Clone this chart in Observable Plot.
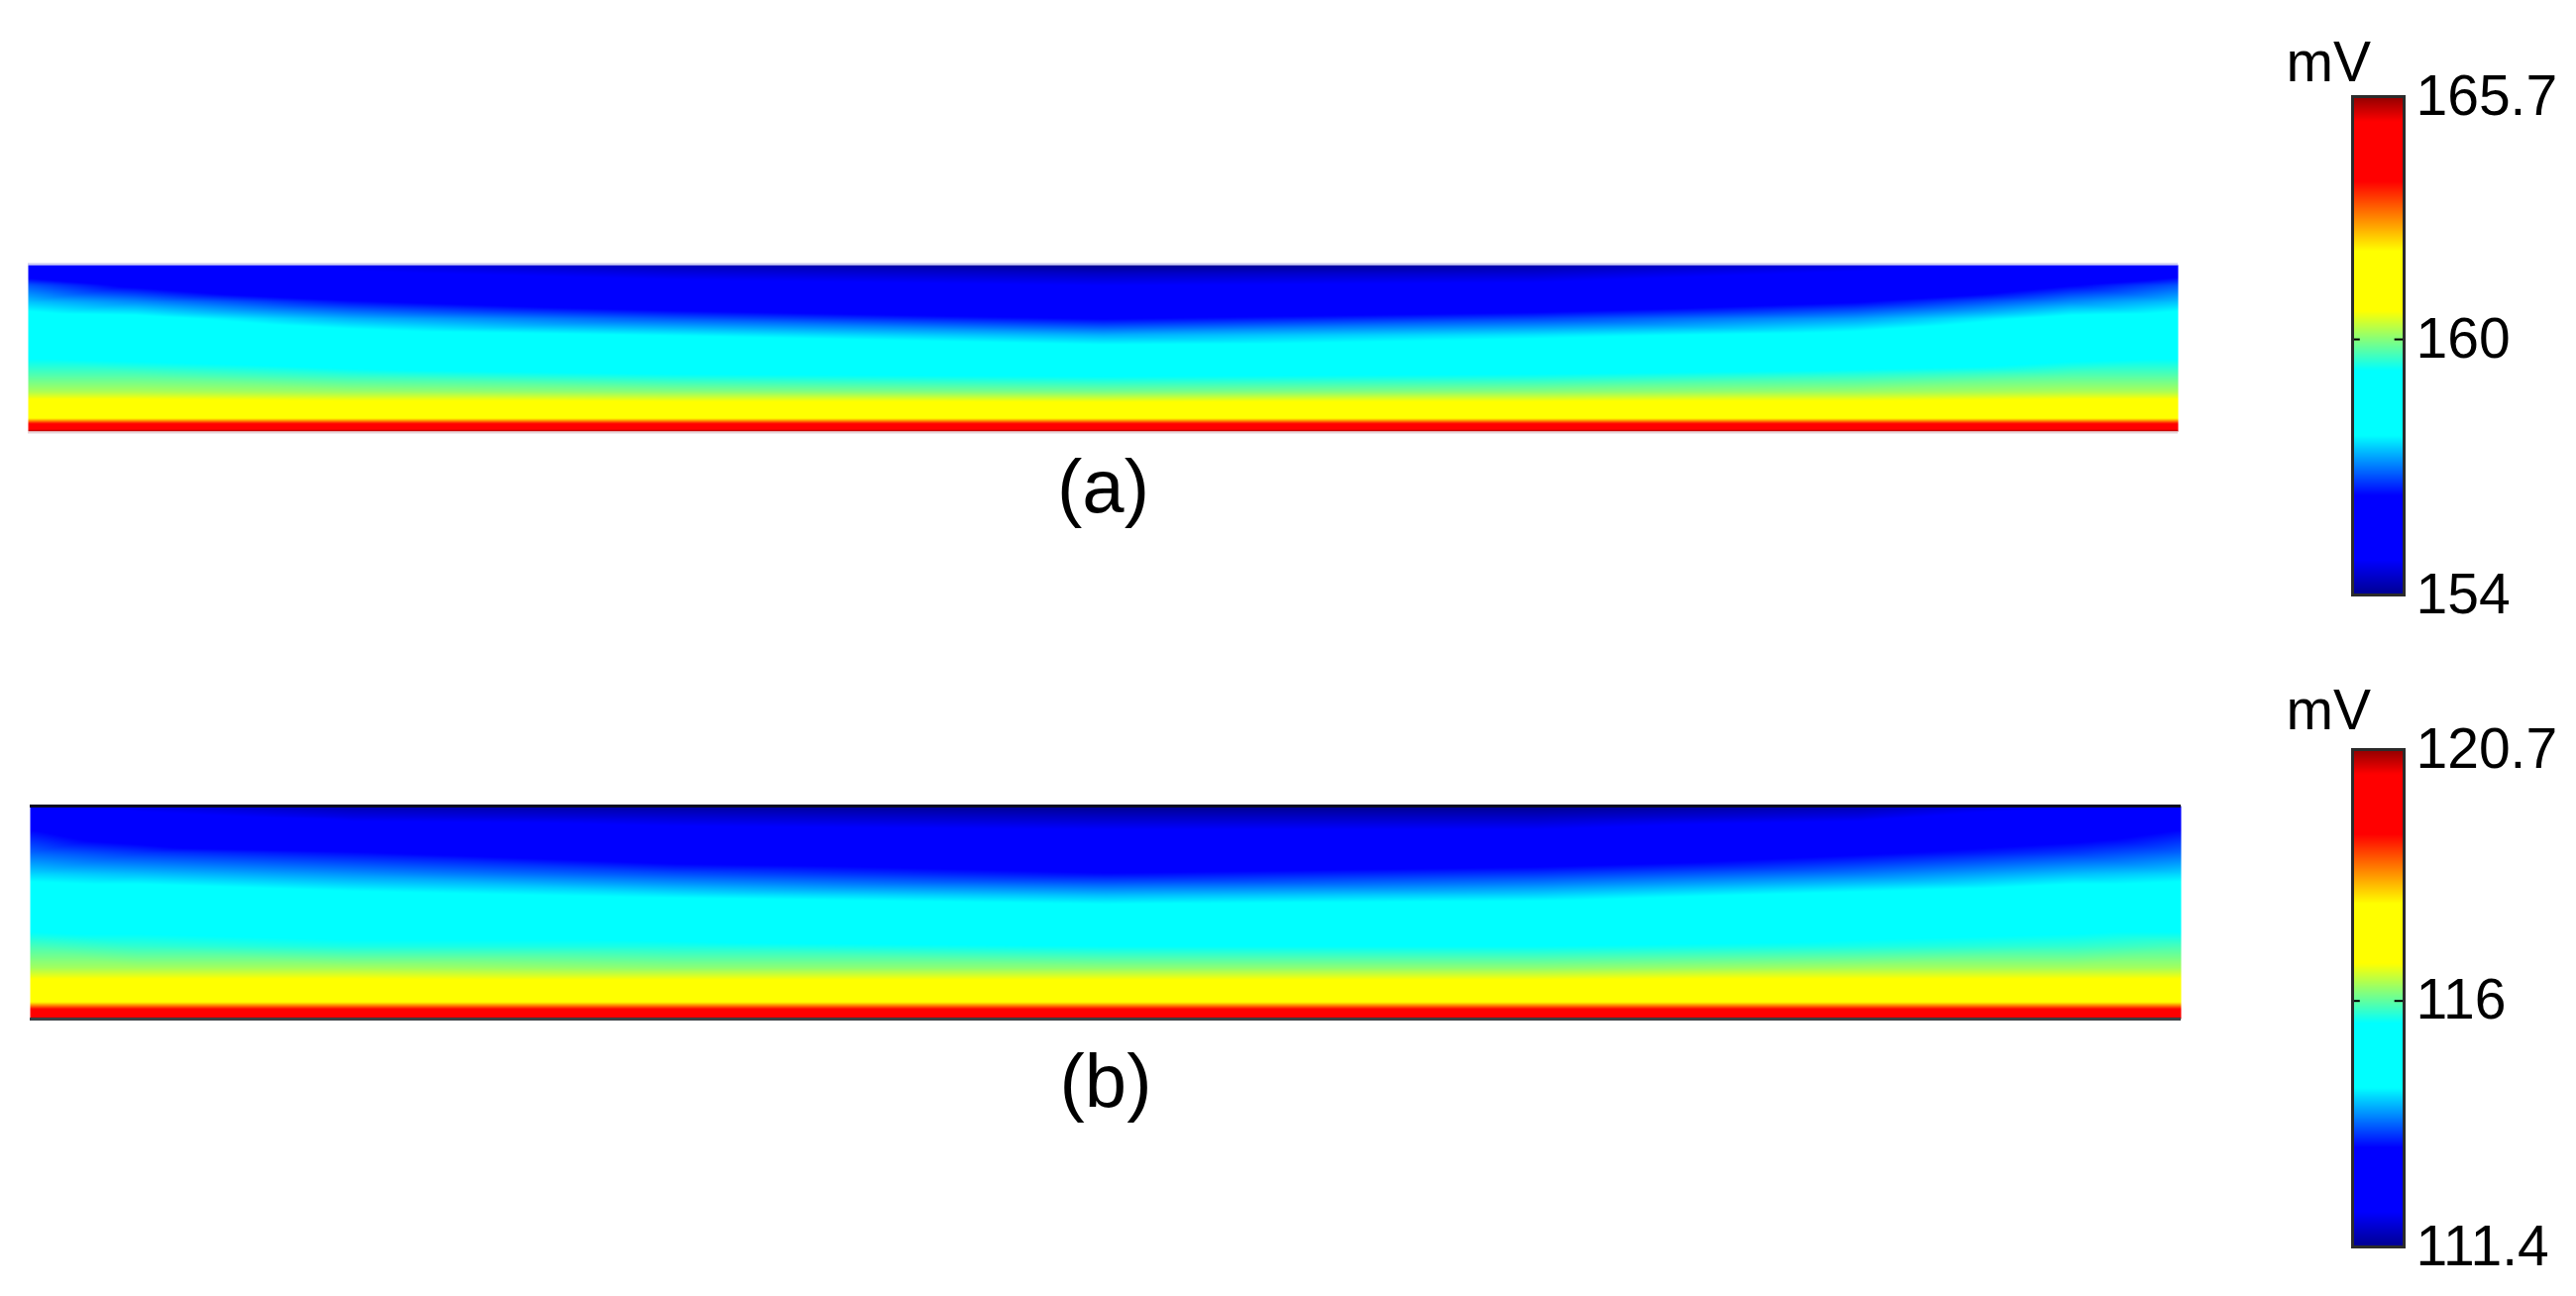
<!DOCTYPE html>
<html><head><meta charset="utf-8">
<script src="https://cdn.jsdelivr.net/npm/d3@7"></script>
<script src="https://cdn.jsdelivr.net/npm/@observablehq/plot@0.6"></script>
<style>
html,body{margin:0;padding:0;background:#fff;}
#root{position:relative;width:2600px;height:1308px;overflow:hidden;font-family:"Liberation Sans",Arial,sans-serif;}
#root > div{position:absolute;}
svg{overflow:visible;}
</style></head><body><div id="root"></div>
<script>
// horizontal position (fraction of length) and depth (fraction, 0 = top)
const xFrac = [0, 0.05, 0.15, 0.3, 0.5, 0.7, 0.85, 0.95, 1];
const depth = [0, 0.05, 0.12, 0.22, 0.32, 0.42, 0.55, 0.66, 0.76, 0.85, 0.92, 0.96, 1];

// panel (a) potential, mV — one row per depth, values across xFrac
const potA = [
  [155.5,155.0,154.7,154.3,154.0,154.2,154.6,155.0,155.6],
  [156.0,155.4,154.9,154.6,154.4,154.5,154.9,155.5,156.1],
  [156.8,156.2,155.3,155.0,154.8,154.9,155.3,156.3,156.8],
  [157.4,157.1,156.4,155.8,155.5,155.7,156.3,157.1,157.4],
  [158.0,157.9,157.3,156.8,156.3,156.7,157.2,157.9,158.0],
  [158.6,158.5,158.0,157.7,157.3,157.6,157.9,158.5,158.6],
  [159.2,159.1,158.8,158.5,158.3,158.4,158.7,159.1,159.2],
  [159.7,159.7,159.5,159.3,159.2,159.3,159.5,159.7,159.7],
  [160.2,160.2,160.1,160.0,159.9,160.0,160.1,160.2,160.2],
  [161.1,161.1,161.0,161.0,161.0,161.0,161.0,161.1,161.1],
  [162.0,162.0,162.0,162.0,162.0,162.0,162.0,162.0,162.0],
  [164.1,164.1,164.1,164.1,164.1,164.1,164.1,164.1,164.1],
  [165.6,165.6,165.6,165.6,165.6,165.6,165.6,165.6,165.6]
];

// panel (b) potential, mV
const potB = [
  [112.3,111.9,111.6,111.5,111.4,111.4,111.6,112.0,112.4],
  [112.8,112.2,111.9,111.8,111.7,111.7,111.9,112.4,112.9],
  [113.3,112.9,112.4,112.2,112.1,112.1,112.4,113.0,113.3],
  [113.7,113.5,113.3,112.9,112.7,112.8,113.2,113.5,113.7],
  [114.2,114.1,113.9,113.6,113.3,113.5,113.8,114.1,114.2],
  [114.7,114.7,114.5,114.3,114.1,114.2,114.5,114.7,114.7],
  [115.4,115.4,115.3,115.2,115.0,115.1,115.3,115.4,115.4],
  [115.9,115.8,115.7,115.7,115.6,115.6,115.7,115.8,115.9],
  [116.3,116.3,116.3,116.2,116.2,116.2,116.3,116.3,116.3],
  [117.0,117.0,117.0,117.0,117.0,117.0,117.0,117.0,117.0],
  [117.8,117.8,117.8,117.8,117.8,117.8,117.8,117.8,117.8],
  [119.4,119.4,119.4,119.4,119.4,119.4,119.4,119.4,119.4],
  [120.6,120.6,120.6,120.6,120.6,120.6,120.6,120.6,120.6]
];

// colour bar ranges and ticks
const rangeA = [154, 165.7];
const rangeB = [111.4, 120.7];
const ticksA = [154, 160, 165.7];
const tickLabelsA = ["154", "160", "165.7"];
const ticksB = [111.4, 116, 120.7];
const tickLabelsB = ["111.4", "116", "120.7"];
const panelLabels = ["(a)", "(b)"];
const unitLabel = "mV";

// jet-like colormap stops
const jetStops = [0, 0.07, 0.2, 0.26, 0.32, 0.45, 0.51, 0.57, 0.69, 0.76, 0.83, 0.95, 1];
const jetColors = ["#000090","#0000ff","#0000ff","#0080ff","#00ffff","#00ffff","#80ff80","#ffff00","#ffff00","#ff8000","#ff0000","#ff0000","#900000"];

const FONT = '"Liberation Sans", Arial, sans-serif';
const root = document.getElementById("root");

function colorScale(range) {
  return {type: "linear", domain: jetStops.map(f => range[0] + f * (range[1] - range[0])),
          range: jetColors, interpolate: "rgb", clamp: true};
}

function place(el, left, top) {
  const d = document.createElement("div");
  d.style.left = left + "px"; d.style.top = top + "px";
  d.appendChild(el); root.appendChild(d);
}

function panel(rows, range, label, w, h, labelDy, borders) {
  const pts = [];
  depth.forEach((d, i) => xFrac.forEach((x, j) => pts.push({x, y: d, v: rows[i][j]})));
  const marks = [
    Plot.raster(pts, {x: "x", y: "y", fill: "v", interpolate: "barycentric", x1: 0, x2: 1, y1: 0, y2: 1}),
    Plot.text([label], {frameAnchor: "bottom", lineAnchor: "middle", dy: labelDy, fontSize: 76,
                        text: d => d, fill: "#000"})
  ];
  if (borders) {
    marks.push(Plot.ruleY([0], {stroke: "#0a0a20", strokeWidth: 3}));
    marks.push(Plot.ruleY([1], {stroke: "#3a3f44", strokeWidth: 3}));
  } else {
    marks.push(Plot.ruleY([0], {stroke: "#c8c8f4", strokeWidth: 2, dy: -1}));
    marks.push(Plot.ruleY([1], {stroke: "#e6d6da", strokeWidth: 2, dy: 1}));
  }
  return Plot.plot({
    width: w, height: h + 120, marginTop: 0, marginLeft: 0, marginRight: 0, marginBottom: 120,
    x: {domain: [0, 1], axis: null},
    y: {domain: [0, 1], reverse: true, axis: null},
    color: colorScale(range),
    style: {fontFamily: FONT, background: "transparent", overflow: "visible"},
    marks
  });
}

function colorbar(range, ticks, tickLabels, barH, mvDy) {
  const lab = new Map(ticks.map((t, i) => [t, tickLabels[i]]));
  const inner = ticks.slice(1, -1);
  return Plot.plot({
    width: 300, height: 67 + barH + 40,
    marginLeft: 74, marginRight: 174, marginTop: 67, marginBottom: 40,
    x: {domain: [0, 1], axis: null},
    y: {domain: range, axis: null},
    color: colorScale(range),
    style: {fontFamily: FONT, fontSize: "57px", background: "transparent", overflow: "visible"},
    marks: [
      Plot.raster({fill: (x, y) => y, x1: 0, x2: 1, y1: range[0], y2: range[1]}),
      Plot.ruleY(inner, {x1: 0, x2: 0.15, stroke: "#000", strokeWidth: 2}),
      Plot.ruleY(inner, {x1: 0.82, x2: 1, stroke: "#000", strokeWidth: 2}),
      Plot.frame({stroke: "#2b2b2b", strokeWidth: 3}),
      Plot.axisY(ticks, {anchor: "right", tickSize: 0, tickPadding: 12, fontSize: 57,
                         tickFormat: d => lab.get(d), fill: "#000"}),
      Plot.text([unitLabel], {frameAnchor: "top-left", lineAnchor: "middle", dx: -67, dy: mvDy,
                              textAnchor: "start", fontSize: 57, text: d => d, fill: "#000"})
    ]
  });
}

place(panel(potA, rangeA, panelLabels[0], 2170, 168, 57, false), 28, 267);
place(panel(potB, rangeB, panelLabels[1], 2171, 215, 64, true), 30, 813);
place(colorbar(rangeA, ticksA, tickLabelsA, 503, -34), 2300, 30);
place(colorbar(rangeB, ticksB, tickLabelsB, 502, -39), 2300, 689);
</script></body></html>
